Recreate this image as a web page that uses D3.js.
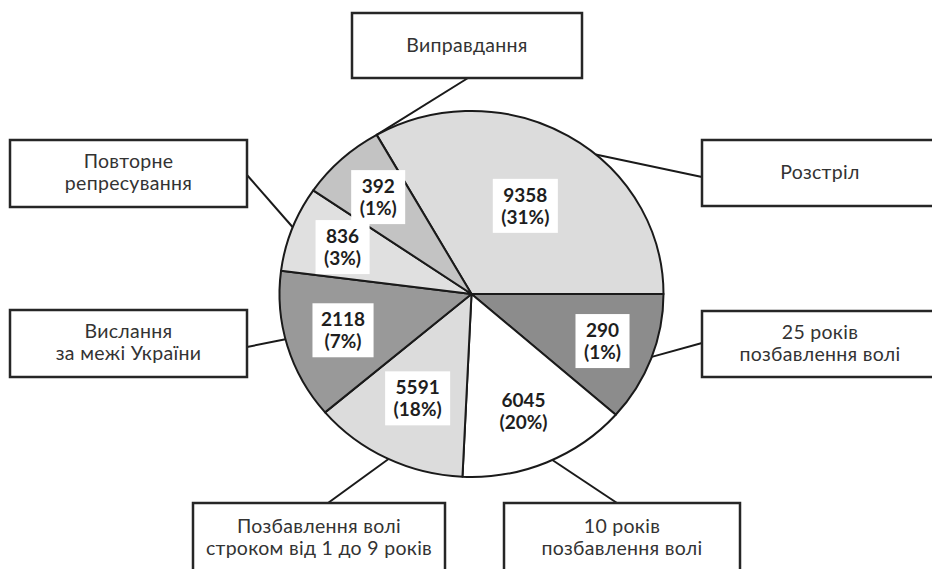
<!DOCTYPE html>
<html><head><meta charset="utf-8">
<script src="https://cdn.jsdelivr.net/npm/d3@7"></script>
<style>body{margin:0;background:#fff}svg{display:block}</style>
</head><body>
<svg id="chart" width="932" height="569"></svg>
<script>
// ---- data ----
const categories = ["Розстріл", "25 років позбавлення волі", "10 років позбавлення волі",
  "Позбавлення волі строком від 1 до 9 років", "Вислання за межі України",
  "Повторне репресування", "Виправдання"];
const categoryLines = [["Розстріл"], ["25 років", "позбавлення волі"], ["10 років", "позбавлення волі"],
  ["Позбавлення волі", "строком від 1 до 9 років"], ["Вислання", "за межі України"],
  ["Повторне", "репресування"], ["Виправдання"]];
const counts = [9358, 290, 6045, 5591, 2118, 836, 392];
const percents = [31, 1, 20, 18, 7, 3, 1];
// slice sizes as they are drawn in the picture (degrees of the circle)
const drawnShares = [119.6, 41.3, 51.4, 47.0, 47.6, 27.2, 25.9];

// ---- styles / layout ----
const sliceColors = ["#dcdcdc", "#8c8c8c", "#ffffff", "#dcdcdc", "#999999", "#e0e0e0", "#c3c3c3"];
const cx = 471.5, cy = 294, rx = 192, ry = 183, k = ry / rx;
const startDeg = -29.6;
const labelRadius = [107, 140, 133, 122, 134, 138, 138];
// outer boxes: rect, anchor on the box, angle where leader meets the pie
const boxes = [
  {x: 702, y: 140, w: 240, h: 66, ax: 702, ay: 177, ang: 40.3},
  {x: 702, y: 311, w: 240, h: 66, ax: 702, ay: 343, ang: 110.1},
  {x: 504, y: 503, w: 236, h: 80, ax: 617, ay: 503, ang: 155.1},
  {x: 193, y: 503, w: 252, h: 80, ax: 328, ay: 503, ang: 205.6},
  {x: 10, y: 310, w: 237, h: 67, ax: 247, ay: 347, ang: 255.7},
  {x: 10, y: 140, w: 237, h: 67, ax: 247, ay: 175, ang: 291.4},
  {x: 352, y: 13, w: 230, h: 65, ax: 468, ay: 78, ang: 330.4}
];

const rad = d => d * Math.PI / 180;
const data = categories.map((c, i) => ({cat: c, lines: categoryLines[i], count: counts[i], pct: percents[i], share: drawnShares[i], i}));

const svg = d3.select("#chart");
svg.append("rect").attr("width", 932).attr("height", 569).attr("fill", "#fff");

const pie = d3.pie().sort(null).value(d => d.share)
  .startAngle(rad(startDeg)).endAngle(rad(startDeg) + 2 * Math.PI);
const arcs = pie(data);
const arc = d3.arc().innerRadius(0).outerRadius(rx);

const pt = (angRad, r) => [cx + r * Math.sin(angRad), cy - r * Math.cos(angRad) * k];

// leader lines
svg.append("g").selectAll("line").data(data).join("line")
  .attr("x1", d => boxes[d.i].ax).attr("y1", d => boxes[d.i].ay)
  .attr("x2", d => pt(rad(boxes[d.i].ang), rx)[0])
  .attr("y2", d => pt(rad(boxes[d.i].ang), rx)[1])
  .attr("stroke", "#1a1a1a").attr("stroke-width", 2);

// pie
const pg = svg.append("g").attr("transform", `translate(${cx},${cy}) scale(1,${k})`);
pg.selectAll("path").data(arcs).join("path")
  .attr("d", arc)
  .attr("fill", d => sliceColors[d.data.i])
  .attr("stroke", "#1a1a1a").attr("stroke-width", 2)
  .attr("vector-effect", "non-scaling-stroke")
  .attr("stroke-linejoin", "round");

// inner labels
const lg = svg.append("g");
arcs.forEach(a => {
  const mid = (a.startAngle + a.endAngle) / 2;
  const [x, y] = pt(mid, labelRadius[a.data.i]);
  const g = lg.append("g").attr("transform", `translate(${x},${y})`);
  const rect = g.append("rect").attr("fill", "#fff");
  const t = g.append("text").attr("text-anchor", "middle")
    .attr("font-family", "Lato, 'Open Sans', sans-serif").attr("font-weight", 700)
    .attr("font-size", 19).attr("fill", "#1e1e1e");
  t.append("tspan").attr("x", 0).attr("y", -4).text(a.data.count);
  t.append("tspan").attr("x", 0).attr("y", 18).text(`(${a.data.pct}%)`);
  const bb = t.node().getBBox();
  const w = bb.width + 17, h = 54;
  rect.attr("x", -w / 2).attr("y", -h / 2).attr("width", w).attr("height", h);
});

// outer boxes
const og = svg.append("g");
data.forEach(d => {
  const b = boxes[d.i];
  og.append("rect").attr("x", b.x).attr("y", b.y).attr("width", b.w).attr("height", b.h)
    .attr("fill", "#fff").attr("stroke", "#262626").attr("stroke-width", 2.5);
  const n = d.lines.length;
  const midY = b.y + Math.min(b.h, 66) / 2;
  const t = og.append("text").attr("text-anchor", "middle")
    .attr("font-family", "Lato, 'Open Sans', sans-serif").attr("font-size", 19.5)
    .attr("letter-spacing", 0.3).attr("fill", "#333");
  d.lines.forEach((ln, j) => {
    t.append("tspan").attr("x", b.x + b.w / 2 + (b.x + b.w > 932 ? -2 : 0))
      .attr("y", midY + (j - (n - 1) / 2) * 22 + 6 + (b.h > 70 ? 2 : 0))
      .text(ln);
  });
});
</script>
</body></html>
